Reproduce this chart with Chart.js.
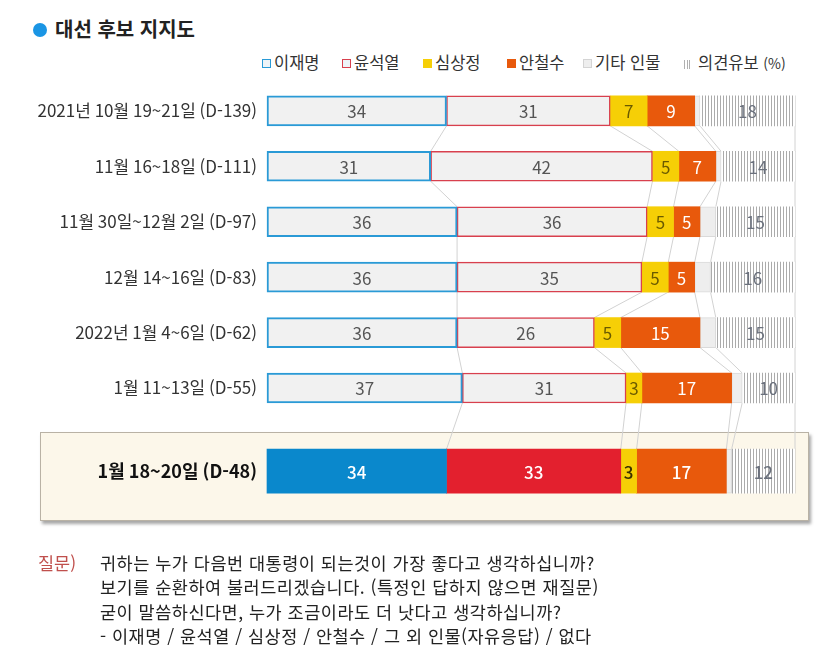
<!DOCTYPE html>
<html lang="ko">
<head>
<meta charset="utf-8">
<script src="https://cdn.jsdelivr.net/npm/chart.js@4.4.1/dist/chart.umd.min.js"></script>
<style>
  body { margin: 0; background: #fff; font-family: "Noto Sans CJK KR", "Noto Sans", sans-serif; color: #333; }
  #wrap { position: relative; width: 822px; height: 664px; overflow: hidden; }
  #title { position: absolute; left: 33px; top: 14px; font-size: 20px; font-weight: bold; color: #222; white-space: nowrap; }
  #title .dot { display: inline-block; width: 14px; height: 14px; border-radius: 50%; background: #1a95e4; margin-right: 8px; vertical-align: 0px; }
  #legend { position: absolute; top: 51px; left: 0; font-size: 16.5px; color: #333; }
  #legend .item { position: absolute; white-space: nowrap; line-height: 22px; }
  #legend .sw { display: inline-block; width: 9px; height: 9px; margin-right: 3px; vertical-align: 1px; box-sizing: border-box; }
  #highlight { position: absolute; left: 40px; top: 432px; width: 767px; height: 87px; background: #fcf7ea; border: 1px solid #b9b2a5; box-shadow: 2px 3px 3px rgba(0,0,0,0.35); }
  #chart { position: absolute; left: 0; top: 0; }
  #question { position: absolute; left: 38px; top: 551px; font-size: 17.5px; line-height: 24.3px; color: #222; white-space: nowrap; }
  #question .q { position: absolute; left: 0; top: 0; color: #c0504d; }
  #question .lines { position: absolute; left: 62px; top: 0; white-space: nowrap; letter-spacing: 0.5px; }
</style>
</head>
<body>
<div id="wrap">
  <div id="title"><span class="dot"></span>대선 후보 지지도</div>
  <div id="legend"></div>
  <div id="highlight"></div>
  <canvas id="chart" width="822" height="664"></canvas>
  <div id="question">
    <span class="q">질문)</span>
    <div class="lines">
      귀하는 누가 다음번 대통령이 되는것이 가장 좋다고 생각하십니까?<br>
      보기를 순환하여 불러드리겠습니다. (특정인 답하지 않으면 재질문)<br>
      굳이 말씀하신다면, 누가 조금이라도 더 낫다고 생각하십니까?<br>
      - 이재명 / 윤석열 / 심상정 / 안철수 / 그 외 인물(자유응답) / 없다
    </div>
  </div>
</div>
<script>
// poll rows, top to bottom (last one is the latest poll, highlighted)
const pollDates = [
  "2021년 10월 19~21일 (D-139)",
  "11월 16~18일 (D-111)",
  "11월 30일~12월 2일 (D-97)",
  "12월 14~16일 (D-83)",
  "2022년 1월 4~6일 (D-62)",
  "1월 11~13일 (D-55)",
  "1월 18~20일 (D-48)"
];
const seriesNames = ["이재명", "윤석열", "심상정", "안철수", "기타 인물", "의견유보"];
const leeJaemyung = [34, 31, 36, 36, 36, 37, 34];
const yoonSeokyoul = [31, 42, 36, 35, 26, 31, 33];
const simSangjung = [7, 5, 5, 5, 5, 3, 3];
const ahnCheolsoo = [9, 7, 5, 5, 15, 17, 17];
const otherPeople = [1, 1, 3, 3, 3, 2, 1];
const undecided = [18, 14, 15, 16, 15, 10, 12];
const seriesValues = [leeJaemyung, yoonSeokyoul, simSangjung, ahnCheolsoo, otherPeople, undecided];

// layout: category slots (blank slots make the gap before the highlighted row)
const slotOf = [0, 2, 4, 6, 8, 10, 13];
const slotCount = 14;
const lastRow = pollDates.length - 1;

// striped fill for 의견유보
function stripes() {
  const c = document.createElement("canvas");
  c.width = 3; c.height = 4;
  const g = c.getContext("2d");
  g.fillStyle = "#ffffff"; g.fillRect(0, 0, 3, 4);
  g.fillStyle = "#ababab"; g.fillRect(0, 0, 1, 4);
  return g.createPattern(c, "repeat");
}
const stripePattern = stripes();

// styles: [normal rows, highlighted row]
const styles = [
  [{ bg: "#f1f1f1", border: "#2a9ad6", bw: 2, text: "#555" }, { bg: "#0a88cc", border: "#0a88cc", bw: 0, text: "#fff" }],
  [{ bg: "#f1f1f1", border: "#d8404e", bw: 1.5, text: "#555" }, { bg: "#e3202e", border: "#e3202e", bw: 0, text: "#fff" }],
  [{ bg: "#f6cf06", border: "#f6cf06", bw: 0, text: "#6a5a00" }, { bg: "#f6cf06", border: "#f6cf06", bw: 0, text: "#3a3000" }],
  [{ bg: "#e8590c", border: "#e8590c", bw: 0, text: "#fff" }, { bg: "#e8590c", border: "#e8590c", bw: 0, text: "#fff" }],
  [{ bg: "#eeeeee", border: "#dadada", bw: 1, text: null }, { bg: "#eeeeee", border: "#dadada", bw: 1, text: null }],
  [{ bg: stripePattern, border: "#ffffff", bw: 0, text: "#6b717d" }, { bg: stripePattern, border: "#ffffff", bw: 0, text: "#6b717d" }]
];

const labels = Array(slotCount).fill("");
pollDates.forEach((d, i) => { labels[slotOf[i]] = d; });

function spread(values, rows) {
  const arr = Array(slotCount).fill(null);
  rows.forEach(i => { arr[slotOf[i]] = values[i]; });
  return arr;
}

const normalRows = pollDates.map((d, i) => i).filter(i => i !== lastRow);
const datasets = [];
[normalRows, [lastRow]].forEach((rows, h) => {
  seriesValues.forEach((vals, s) => {
    const st = styles[s][h];
    datasets.push({
      label: seriesNames[s],
      data: spread(vals, rows),
      backgroundColor: st.bg,
      borderColor: st.border,
      borderWidth: st.bw,
      borderSkipped: false,
      barThickness: h ? 44 : 30,
      stack: "all",
      clip: false,
      _series: s,
      _textColor: st.text,
      _highlight: h === 1
    });
  });
});

// legend
const legendX = [262, 342, 423, 507, 583, 684];
const legend = document.getElementById("legend");
seriesNames.forEach((name, s) => {
  const it = document.createElement("span");
  it.className = "item";
  it.style.left = legendX[s] + "px";
  let sw;
  if (s === 5) {
    sw = '<span style="display:inline-block;width:7px;height:9px;margin-right:7px;vertical-align:0px;background:repeating-linear-gradient(90deg,#b0b0b0 0 1px,#fff 1px 2.5px)"></span>';
  } else {
    const st = styles[s][0];
    const fill = (s <= 1) ? "#eef4f8" : st.bg;
    const bd = (s <= 1) ? st.border : (s === 4 ? "#d4d4d4" : st.bg);
    sw = '<span class="sw" style="background:' + fill + ';border:1.5px solid ' + bd + '"></span>';
  }
  it.innerHTML = sw + name + (s === 5 ? ' <span style="font-size:14px">(%)</span>' : "");
  legend.appendChild(it);
});

function rowBars(chart, r) {
  const offset = r === lastRow ? seriesNames.length : 0;
  return seriesNames.map((n, s) => chart.getDatasetMeta(offset + s).data[slotOf[r]]);
}

const connectors = {
  id: "connectors",
  beforeDatasetsDraw(chart) {
    const ctx = chart.ctx;
    ctx.save();
    ctx.strokeStyle = "#d2d2d2";
    ctx.lineWidth = 1;
    for (let r = 0; r < lastRow; r++) {
      const a = rowBars(chart, r), b = rowBars(chart, r + 1);
      for (let s = 0; s < a.length; s++) {
        if (!a[s] || !b[s]) continue;
        ctx.beginPath();
        ctx.moveTo(a[s].x, a[s].y + a[s].height / 2);
        ctx.lineTo(b[s].x, b[s].y - b[s].height / 2);
        ctx.stroke();
      }
    }
    ctx.restore();
  }
};

const valueLabels = {
  id: "valueLabels",
  afterDatasetsDraw(chart) {
    const ctx = chart.ctx;
    ctx.save();
    ctx.textAlign = "center";
    ctx.textBaseline = "middle";
    chart.data.datasets.forEach((ds, i) => {
      if (!ds._textColor) return;
      const meta = chart.getDatasetMeta(i);
      meta.data.forEach((el, j) => {
        const v = ds.data[j];
        if (v === null || v === undefined) return;
        ctx.fillStyle = ds._textColor;
        ctx.font = (ds._highlight ? "500 " : "") + "17px 'Noto Sans CJK KR', 'Noto Sans', sans-serif";
        ctx.fillText(String(v), (el.x + el.base) / 2, el.y + 1);
      });
    });
    ctx.restore();
  }
};

new Chart(document.getElementById("chart"), {
  type: "bar",
  data: { labels: labels, datasets: datasets },
  options: {
    indexAxis: "y",
    responsive: false,
    animation: false,
    layout: { padding: { left: 0, top: 97, right: 27, bottom: 179 } },
    plugins: { legend: { display: false }, tooltip: { enabled: false } },
    scales: {
      x: { stacked: true, min: 0, max: 100, display: false },
      y: {
        stacked: true,
        grid: { display: false, drawTicks: false },
        border: { display: false },
        afterFit(scale) { scale.width = 267; },
        ticks: {
          autoSkip: false,
          padding: 10,
          color: ctx => ctx.index === slotOf[lastRow] ? "#111" : "#333",
          font: ctx => ({
            family: "'Noto Sans CJK KR', 'Noto Sans', sans-serif",
            size: ctx.index === slotOf[lastRow] ? 18 : 17,
            weight: ctx.index === slotOf[lastRow] ? "bold" : "normal"
          })
        }
      }
    }
  },
  plugins: [connectors, valueLabels]
});
</script>
</body>
</html>
